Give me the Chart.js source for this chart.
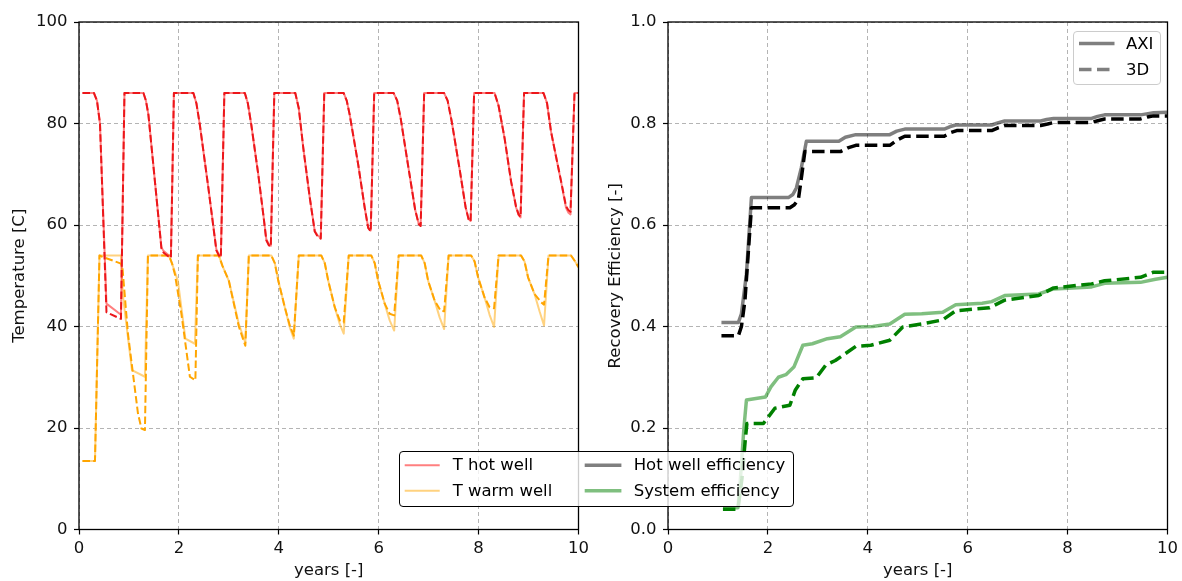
<!DOCTYPE html>
<html>
<head>
<meta charset="utf-8">
<title>Temperature and recovery efficiency</title>
<script src="https://cdn.jsdelivr.net/npm/chart.js@4.4.1/dist/chart.umd.min.js"></script>
<style>
  html, body { margin:0; padding:0; background:#fff; }
  body { width:1182px; height:581px; position:relative; overflow:hidden; font-family:'DejaVu Sans', sans-serif; }
  canvas { position:absolute; top:0; }
  #left { left:0; }
  #right { left:590px; }
  .lg { position:absolute; box-sizing:border-box; background:rgba(255,255,255,0.8); z-index:5; }
  .lg svg { position:absolute; left:0; top:0; overflow:visible; }
  .lg span { position:absolute; font-size:16.5px; line-height:20px; color:#000; white-space:nowrap; }
</style>
</head>
<body>
<canvas id="left" width="600" height="581"></canvas>
<canvas id="right" width="592" height="581"></canvas>
<div class="lg" id="lgMain"></div>
<div class="lg" id="lgModel"></div>
<script>
// ---------------- data ----------------
const yearTicks = [0, 2, 4, 6, 8, 10];
const tempTicks = [0, 20, 40, 60, 80, 100];
const effTicks  = [0, 0.2, 0.4, 0.6, 0.8, 1.0];

const legendMainLabels  = ['T hot well', 'T warm well', 'Hot well efficiency', 'System efficiency'];
const legendModelLabels = ['AXI', '3D'];

// hot well temperature [C]
const hotTime = [0.07,0.30,0.36,0.42,0.55,0.84,0.91,
  1.29,1.34,1.39,1.52,1.65,1.69,1.79,1.84,1.90,
  2.29,2.35,2.42,2.59,2.75,2.80,2.84,2.91,
  3.32,3.38,3.45,3.59,3.69,3.75,3.80,3.84,3.91,
  4.33,4.40,4.49,4.62,4.72,4.78,4.84,4.91,
  5.30,5.36,5.42,5.59,5.72,5.79,5.84,5.91,
  6.30,6.37,6.44,6.60,6.73,6.80,6.84,6.91,
  7.31,7.38,7.46,7.62,7.74,7.80,7.84,7.91,
  8.32,8.40,8.52,8.65,8.75,8.80,8.84,8.91,
  9.30,9.37,9.45,9.55,9.65,9.75,9.80,9.84,9.92,10.0];
const hotAxi = [86,86,84.5,80,44.5,42.3,86,
  86,84.5,81.7,68.6,55.6,54.9,54.1,53.9,86,
  86,84,79.7,67.3,55.2,54.2,53.9,86,
  86,84,79.7,69.9,62.1,57.2,56.2,55.9,86,
  86,83,75.2,65.4,58.8,57.9,57.5,86,
  86,84.5,81.7,71.9,63.4,59.5,58.9,86,
  86,84.5,81,71,63,60.3,59.9,86,
  86,84.5,80.5,71,63.5,61.2,60.8,86,
  86,83.5,77.1,68.6,63.5,62,61.5,86,
  86,84,78.4,73.5,68.6,63.4,62.4,62.1,86,86];
const hot3D = [86,86,84.5,80,42.8,41.5,86,
  86,84.5,81.7,68.6,55.4,54.6,53.8,53.5,86,
  86,84,79.7,67.3,55.0,54.0,53.6,86,
  86,84,79.7,69.9,62.0,57.0,56.0,55.7,86,
  86,83,75.2,65.4,58.7,57.7,57.3,86,
  86,84.5,81.7,71.9,63.4,59.4,58.7,86,
  86,84.5,81,71,63,60.2,59.8,86,
  86,84.5,80.5,71,63.5,61.1,60.7,86,
  86,83.5,77.1,68.6,63.6,62.1,61.6,86,
  86,84,78.4,73.5,68.7,63.7,62.9,62.6,86,86];

// warm well temperature [C]
const warmTimeAxi = [0.07,0.32,0.41,0.84,0.88,1.06,1.32,1.38,
  1.80,1.86,1.98,2.13,2.32,2.38,
  2.80,2.87,3.00,3.20,3.33,3.40,
  3.85,3.92,3.99,4.12,4.22,4.30,4.40,
  4.85,4.92,4.99,5.12,5.22,5.30,5.40,
  5.85,5.92,5.99,6.12,6.22,6.31,6.40,
  6.85,6.92,6.99,7.12,7.22,7.31,7.40,
  7.85,7.92,7.99,8.12,8.22,8.31,8.40,
  8.85,8.92,8.99,9.12,9.22,9.31,9.40,
  9.85,9.92,10.0];
const warmAxi = [13.5,13.5,54,54,46,31.4,30.1,54,
  54,52.5,49,37.6,36.6,54,
  54,52,49,40.5,36.8,54,
  54,52.5,49,43.8,39.8,37.6,54,
  54,52.5,49,43.8,40.5,38.6,54,
  54,52.5,49,44.5,41.2,39.2,54,
  54,52.5,49,45.1,41.8,39.5,54,
  54,52.8,49.7,45.7,42.3,39.9,54,
  54,52.8,49.7,46.4,43,40.2,54,
  54,53,51.7];
const warmTime3D = [0.07,0.32,0.41,0.45,0.84,0.87,0.98,1.18,1.25,1.32,1.38,
  1.80,1.86,1.92,2.05,2.22,2.33,2.38,
  2.80,2.87,3.00,3.20,3.33,3.40,
  3.85,3.92,3.99,4.12,4.22,4.30,4.40,
  4.85,4.92,4.99,5.12,5.22,5.30,5.40,
  5.85,5.92,5.99,6.12,6.22,6.31,6.40,
  6.85,6.92,6.99,7.12,7.24,7.31,7.40,
  7.85,7.92,7.99,8.12,8.22,8.31,8.40,
  8.85,8.92,8.99,9.12,9.25,9.31,9.40,
  9.85,9.92,10.0];
const warm3D = [13.5,13.5,54,53.8,52.4,51.6,38.6,22.9,19.9,19.6,54,
  54,52.5,50.3,42.5,30.1,29.4,54,
  54,52,49,40,36.2,54,
  54,52.5,49,43.8,40.2,38.2,54,
  54,52.5,49,43.8,41.2,40.8,54,
  54,52.5,49,44.5,42.5,42.2,54,
  54,52.5,49,45.1,43.1,43.0,54,
  54,52.8,49.7,45.7,43.8,43.6,54,
  54,52.8,49.7,46.4,44.8,44.3,54,
  54,53,51.7];

// hot well recovery efficiency [-]
const effTimeHotAxi = [1.07,1.41,1.47,1.57,1.67,2.41,2.50,2.57,2.67,2.77,3.42,3.55,3.76,4.44,4.58,4.74,
  5.53,5.65,5.76,6.48,6.60,6.74,7.46,7.58,7.72,8.48,8.60,8.74,9.46,9.58,9.72,10.0];
const effHotAxi = [0.408,0.408,0.425,0.503,0.654,0.654,0.660,0.673,0.713,0.765,0.765,0.773,0.778,0.778,0.785,0.789,
  0.789,0.794,0.797,0.797,0.801,0.805,0.805,0.808,0.810,0.810,0.814,0.817,0.817,0.819,0.821,0.822];
const effTimeHot3D = [1.07,1.41,1.47,1.54,1.67,2.44,2.53,2.61,2.68,2.74,3.46,3.60,3.76,4.44,4.60,4.74,
  5.53,5.66,5.78,6.48,6.62,6.74,7.46,7.60,7.72,8.48,8.62,8.74,9.46,9.60,9.72,10.0];
const effHot3D = [0.382,0.382,0.400,0.451,0.634,0.634,0.640,0.650,0.700,0.745,0.745,0.752,0.757,0.757,0.768,0.775,
  0.775,0.782,0.786,0.786,0.792,0.796,0.796,0.799,0.802,0.802,0.806,0.809,0.809,0.813,0.815,0.815];

// system recovery efficiency [-]
const effTimeSysAxi = [1.10,1.40,1.45,1.52,1.57,1.95,2.06,2.21,2.36,2.52,2.70,2.89,3.19,3.45,3.76,4.10,
  4.44,4.74,5.08,5.50,5.76,6.29,6.48,6.74,7.42,7.72,8.48,8.74,9.46,9.76,10.0];
const effSysAxi = [0.043,0.043,0.100,0.200,0.255,0.261,0.281,0.300,0.305,0.320,0.363,0.366,0.376,0.380,0.399,0.400,
  0.405,0.424,0.425,0.428,0.443,0.446,0.449,0.461,0.464,0.474,0.478,0.485,0.487,0.493,0.497];
const effTimeSys3D = [1.10,1.40,1.48,1.55,1.58,1.91,2.14,2.44,2.55,2.70,2.97,3.16,3.35,3.50,3.76,4.06,
  4.44,4.70,5.08,5.50,5.76,6.44,6.74,7.42,7.72,8.48,8.74,9.46,9.72,10.0];
const effSys3D = [0.040,0.040,0.100,0.180,0.209,0.209,0.239,0.245,0.275,0.297,0.299,0.324,0.333,0.343,0.361,0.363,
  0.373,0.399,0.405,0.413,0.431,0.437,0.452,0.461,0.476,0.484,0.490,0.497,0.507,0.507];

// ---------------- styles ----------------
const RED = 'rgb(236,22,26)', RED_A = 'rgba(255,0,0,0.5)';
const ORANGE = '#ffa500', ORANGE_A = 'rgba(255,165,0,0.5)';
const BLACK = '#000', GRAY_A = 'rgba(0,0,0,0.5)';
const GREEN = '#008000', GREEN_A = 'rgba(0,128,0,0.5)';
const THIN = 2, THICK = 3.5;
const DASH_THIN = [7.5, 3.2], DASH_THICK = [12.5, 5.5];
const FONT = {family: "'DejaVu Sans', sans-serif", size: 16.5};
const TXT = '#111';

const pts = (xs, ys) => xs.map((x, i) => ({x: x, y: ys[i]}));
function ds(label, xs, ys, color, width, dash, order) {
  return {label, data: pts(xs, ys), borderColor: color, backgroundColor: color, borderWidth: width,
    borderDash: dash || [], pointRadius: 0, pointHoverRadius: 0, fill: false, tension: 0,
    borderJoinStyle: 'round', order};
}

const framePlugin = {
  id: 'frame',
  afterDatasetsDraw(chart) {
    const {ctx, chartArea: a} = chart;
    ctx.save();
    ctx.strokeStyle = '#000';
    ctx.lineWidth = 1.3;
    ctx.setLineDash([]);
    ctx.strokeRect(a.left, a.top, a.right - a.left, a.bottom - a.top);
    ctx.restore();
  }
};

const GRID = {color: '#b4b4b4', lineWidth: 1, drawTicks: true, tickLength: 5, tickWidth: 1.2, tickColor: '#000'};

function xAxis(tickArr, title, height) {
  return {
    type: 'linear', position: 'bottom', min: tickArr[0], max: tickArr[tickArr.length - 1],
    afterBuildTicks: s => { s.ticks = tickArr.map(v => ({value: v})); },
    ticks: {font: FONT, color: TXT, padding: 4, maxRotation: 0, autoSkip: false},
    grid: GRID, border: {display: false, dash: [4, 3]},
    title: {display: true, text: title, font: FONT, color: TXT, padding: {top: 0, bottom: 0}},
    afterFit: s => { s.height = height; }
  };
}
function yAxis(tickArr, title, width, fmt, titlePad) {
  return {
    type: 'linear', position: 'left', min: tickArr[0], max: tickArr[tickArr.length - 1],
    afterBuildTicks: s => { s.ticks = tickArr.map(v => ({value: v})); },
    ticks: {font: FONT, color: TXT, padding: 6.5, autoSkip: false, callback: fmt},
    grid: GRID, border: {display: false, dash: [4, 3]},
    title: {display: true, text: title, font: FONT, color: TXT, padding: {top: titlePad, bottom: 0}},
    afterFit: s => { s.width = width; }
  };
}
const common = {
  responsive: false, animation: false, events: [],
  plugins: {legend: {display: false}, tooltip: {enabled: false}}
};

new Chart(document.getElementById('left'), {
  type: 'line',
  data: {datasets: [
    ds('T hot well 3D', hotTime, hot3D, RED, THIN, DASH_THIN, 0),
    ds('T warm well 3D', warmTime3D, warm3D, ORANGE, THIN, DASH_THIN, 1),
    ds(legendMainLabels[0] + ' AXI', hotTime, hotAxi, RED_A, THIN, null, 2),
    ds(legendMainLabels[1] + ' AXI', warmTimeAxi, warmAxi, ORANGE_A, THIN, null, 3)
  ]},
  options: Object.assign({}, common, {
    layout: {padding: {left: 0, right: 21.5, top: 22, bottom: 0}},
    scales: {
      x: xAxis(yearTicks, 'years [-]', 51.5),
      y: yAxis(tempTicks, 'Temperature [C]', 79, v => String(v), 9.5)
    }
  }),
  plugins: [framePlugin]
});

new Chart(document.getElementById('right'), {
  type: 'line',
  data: {datasets: [
    ds('Hot well efficiency 3D', effTimeHot3D, effHot3D, BLACK, THICK, DASH_THICK, 0),
    ds('System efficiency 3D', effTimeSys3D, effSys3D, GREEN, THICK, DASH_THICK, 1),
    ds(legendMainLabels[2] + ' AXI', effTimeHotAxi, effHotAxi, GRAY_A, THICK, null, 2),
    ds(legendMainLabels[3] + ' AXI', effTimeSysAxi, effSysAxi, GREEN_A, THICK, null, 3)
  ]},
  options: Object.assign({}, common, {
    layout: {padding: {left: 0, right: 13.5, top: 22, bottom: 0}},
    scales: {
      x: xAxis(yearTicks, 'years [-]', 51.5),
      y: yAxis(effTicks, 'Recovery Efficiency [-]', 78, v => Number(v).toFixed(1), 15.5)
    }
  }),
  plugins: [framePlugin]
});

// ---------------- legends (HTML overlay) ----------------
function buildLegend(el, box, items) {
  el.style.left = box.x + 'px'; el.style.top = box.y + 'px';
  el.style.width = box.w + 'px'; el.style.height = box.h + 'px';
  el.style.border = box.border; el.style.borderRadius = box.radius + 'px';
  let svg = '<svg width="' + box.w + '" height="' + box.h + '">';
  let html = '';
  items.forEach(it => {
    const dash = it.dash ? ' stroke-dasharray="' + it.dash.join(' ') + '"' : '';
    svg += '<line x1="' + it.x1 + '" y1="' + it.y + '" x2="' + it.x2 + '" y2="' + it.y +
      '" stroke="' + it.color + '" stroke-width="' + it.width + '"' + dash + '/>';
    html += '<span style="left:' + it.tx + 'px;top:' + (it.y - 10) + 'px">' + it.label + '</span>';
  });
  el.innerHTML = svg + '</svg>' + html;
}

buildLegend(document.getElementById('lgMain'),
  {x: 399, y: 451, w: 395, h: 56, border: '1.3px solid #000', radius: 4},
  [
    {label: legendMainLabels[0], color: RED_A, width: THIN, x1: 4.7, x2: 39.7, tx: 52.7, y: 13.2},
    {label: legendMainLabels[1], color: ORANGE_A, width: THIN, x1: 4.7, x2: 39.7, tx: 52.7, y: 38.7},
    {label: legendMainLabels[2], color: GRAY_A, width: THICK, x1: 184.7, x2: 221.4, tx: 233.7, y: 13.2},
    {label: legendMainLabels[3], color: GREEN_A, width: THICK, x1: 184.7, x2: 221.4, tx: 233.7, y: 38.7}
  ]);

buildLegend(document.getElementById('lgModel'),
  {x: 1073, y: 31, w: 88, h: 54, border: '1px solid #cccccc', radius: 4},
  [
    {label: legendModelLabels[0], color: GRAY_A, width: THICK, x1: 5, x2: 40.5, tx: 52, y: 11.5},
    {label: legendModelLabels[1], color: GRAY_A, width: THICK, dash: DASH_THICK, x1: 5, x2: 40.5, tx: 52, y: 37.5}
  ]);
</script>
</body>
</html>
